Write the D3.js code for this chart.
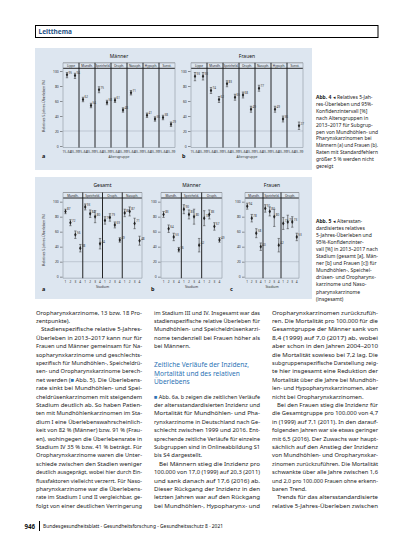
<!DOCTYPE html>
<html><head><meta charset="utf-8">
<script src="https://cdn.jsdelivr.net/npm/d3@7"></script>
<style>html,body{margin:0;padding:0;background:#fff;} svg{display:block}</style>
</head><body>
<script>
// ---------------- DATA ----------------
const fig4Groups = ["Lippe","Mundh.","Speicheld.","Oroph.","Nasoph.","Hypoph.","Sonst."];
const fig4Ages = ["15–64","65–99"];
const fig4Ticks = [0,20,40,60,80,100];
const menVal = [[95,94],[62,54],[75,58],[61,48],[71,null],[41,36],[38,29]];
const menLo  = [[91,90],[59,51],[71,55],[58,45],[68,null],[38,33],[35,26]];
const menHi  = [[98,97],[65,57],[79,61],[64,51],[74,null],[44,39],[41,32]];
const womVal = [[93,93],[74,62],[83,65],[68,49],[77,null],[49,36],[null,27]];
const womLo  = [[87,88],[70,58],[79,61],[64,45],[73,null],[45,32],[null,22]];
const womHi  = [[98,98],[78,66],[87,69],[72,53],[81,null],[53,40],[null,32]];

const fig5GroupsA = ["Mundh.","Speicheld.","Oroph.","Nasoph."];
const fig5GroupsBC = ["Mundh.","Speicheld.","Oroph."];
const stages = ["1","2","3","4"];
const allVal = [[87,72,56,38],[93,84,80,44],[75,79,69,49],[85,87,71,48]];
const allLo  = [[84,68,51,33],[89,79,72,37],[70,74,65,46],[80,81,64,42]];
const allHi  = [[90,76,61,43],[97,89,88,51],[80,84,73,52],[90,93,78,54]];
const m5Val = [[83,64,53,36],[90,83,80,42],[78,83,67,49]];
const m5Lo  = [[79,59,48,33],[84,77,70,33],[68,77,62,46]];
const m5Hi  = [[87,69,58,39],[96,89,90,51],[88,89,72,52]];
const w5Val = [[94,78,58,40],[91,87,80,42],[71,73,73,53]];
const w5Lo  = [[90,73,52,35],[86,81,67,33],[63,64,66,48]];
const w5Hi  = [[98,83,64,45],[96,93,90,51],[79,82,80,58]];

const caption4 = ["Abb. 4 ◂ Relatives 5-Jah-","res-Überleben und 95%-","Konfidenzintervall [%]","nach Altersgruppen in","2013–2017 für Subgrup-","pen von Mundhöhlen- und","Pharynxkarzinomen bei","Männern (a) und Frauen (b).","Raten mit Standardfehlern","größer 5 % werden nicht","gezeigt"];
const caption5 = ["Abb. 5 ◂ Altersstan-","dardisiertes relatives","5-Jahres-Überleben und","95%-Konfidenzinter-","vall [%] in 2013–2017 nach","Stadium (gesamt [a], Män-","ner [b] und Frauen [c]) für","Mundhöhlen-, Speichel-","drüsen- und Oropharynx-","karzinome und Naso-","pharynxkarzinome","(insgesamt)"];

const col1 = ["Oropharynxkarzinome, 13 bzw. 18 Pro-","zentpunkte).|","  Stadienspezifische relative 5-Jahres-","Überleben in 2013–2017 kann nur für","Frauen und Männer gemeinsam für Na-","sopharynxkarzinome und geschlechts-","spezifisch für Mundhöhlen-, Speicheldrü-","sen- und Oropharynxkarzinome berech-","net werden (■ Abb. 5). Die Überlebens-","rate sinkt bei Mundhöhlen- und Spei-","cheldrüsenkarzinomen mit steigendem","Stadium deutlich ab. So haben Patien-","ten mit Mundhöhlenkarzinomen im Sta-","dium I eine Überlebenswahrscheinlich-","keit von 82 % (Männer) bzw. 91 % (Frau-","en), wohingegen die Überlebensrate in","Stadium IV 35 % bzw. 41 % beträgt. Für","Oropharynxkarzinome waren die Unter-","schiede zwischen den Stadien weniger","deutlich ausgeprägt, wobei hier durch Ein-","flussfaktoren vielleicht verzerrt. Für Naso-","pharynxkarzinome war die Überlebens-","rate im Stadium I und II vergleichbar, ge-","folgt von einer deutlichen Verringerung"];
const col2a = ["im Stadium III und IV. Insgesamt war das","stadienspezifische relative Überleben für","Mundhöhlen- und Speicheldrüsenkarzi-","nome tendenziell bei Frauen höher als","bei Männern.|"];
const col2Heading = ["Zeitliche Verläufe der Inzidenz,","Mortalität und des relativen","Überlebens"];
const col2b = ["■ Abb. 6a, b zeigen die zeitlichen Verläufe","der altersstandardisierten Inzidenz und","Mortalität für Mundhöhlen- und Pha-","rynxkarzinome in Deutschland nach Ge-","schlecht zwischen 1999 und 2016. Ent-","sprechende zeitliche Verläufe für einzelne","Subgruppen sind in Onlineabbildung S1","bis S4 dargestellt.|","  Bei Männern stieg die Inzidenz pro","100.000 von 17,0 (1999) auf 20,3 (2011)","und sank danach auf 17,6 (2016) ab.","Dieser Rückgang der Inzidenz in den","letzten Jahren war auf den Rückgang","bei Mundhöhlen-, Hypopharynx- und"];
const col3 = ["Oropharynxkarzinomen zurückzufüh-","ren. Die Mortalität pro 100.000 für die","Gesamtgruppe der Männer sank von","8,4 (1999) auf 7,0 (2017) ab, wobei","aber schon in den Jahren 2004–2010","die Mortalität sowieso bei 7,2 lag. Die","subgruppenspezifische Darstellung zeig-","te hier insgesamt eine Reduktion der","Mortalität über die Jahre bei Mundhöh-","len- und Hypopharynxkarzinomen, aber","nicht bei Oropharynxkarzinomen.|","  Bei den Frauen stieg die Inzidenz für","die Gesamtgruppe pro 100.000 von 4,7","in (1999) auf 7,1 (2011). In den darauf-","folgenden Jahren war sie etwas geringer","mit 6,5 (2016). Der Zuwachs war haupt-","sächlich auf den Anstieg der Inzidenz","von Mundhöhlen- und Oropharynxkar-","zinomen zurückzuführen. Die Mortalität","schwankte über alle Jahre zwischen 1,6","und 2,0 pro 100.000 Frauen ohne erkenn-","baren Trend.|","  Trends für das altersstandardisierte","relative 5-Jahres-Überleben zwischen"];
const footerText = "Bundesgesundheitsblatt - Gesundheitsforschung - Gesundheitsschutz 8 · 2021";

// ---------------- DRAWING ----------------
const W=413,H=550;
const svg=d3.select("body").append("svg").attr("width",W).attr("height",H)
  .style("font-family","'Noto Sans', 'Open Sans', sans-serif");
const BG="#dde6f0", BLUE="#1f5286", LINK="#2b72b4";

// header
svg.append("rect").attr("x",35.5).attr("y",25.5).attr("width",342.5).attr("height",12)
  .attr("fill","none").attr("stroke","#000").attr("stroke-width",1);
svg.append("text").attr("x",38.5).attr("y",34.3).attr("font-size",6.5).attr("font-weight","bold")
  .attr("fill",BLUE).text("Leitthema");

// figure backgrounds
svg.append("rect").attr("x",35).attr("y",48).attr("width",277).attr("height",122).attr("fill",BG);
svg.append("rect").attr("x",35).attr("y",177).attr("width",277).attr("height",122).attr("fill",BG);

function panel(o){
  const g=svg.append("g");
  const x=d3.scaleBand().domain(o.groups).range([o.x0,o.x1]);
  const xs=d3.scalePoint().domain(o.subs).range([0,x.bandwidth()]).padding(0.5);
  const y=o.y;
  const yb=y(0)+1.5;
  const sTop=o.stripTop, sBot=o.stripTop+5.5;
  g.append("text").attr("x",(o.x0+o.x1)/2).attr("y",o.titleY).attr("text-anchor","middle")
    .attr("font-size",5).attr("fill","#111").text(o.title);
  g.append("line").attr("x1",o.x0).attr("x2",o.x1).attr("y1",sTop).attr("y2",sTop).attr("stroke","#555").attr("stroke-width",0.5);
  g.append("line").attr("x1",o.x0).attr("x2",o.x1).attr("y1",sBot).attr("y2",sBot).attr("stroke","#111").attr("stroke-width",0.9);
  g.append("line").attr("x1",o.x0).attr("x2",o.x1).attr("y1",y(20)).attr("y2",y(20)).attr("stroke","#aab4bf").attr("stroke-width",0.6);
  g.append("line").attr("x1",o.x0).attr("x2",o.x1).attr("y1",yb).attr("y2",yb).attr("stroke","#8e98a3").attr("stroke-width",0.6);
  [o.x0,o.x1].forEach(v=>g.append("line").attr("x1",v).attr("x2",v).attr("y1",sTop).attr("y2",yb).attr("stroke","#8e98a3").attr("stroke-width",0.6));
  o.groups.slice(1).forEach(gr=>{
    g.append("line").attr("x1",x(gr)).attr("x2",x(gr)).attr("y1",sTop).attr("y2",yb).attr("stroke","#111").attr("stroke-width",0.9);
  });
  o.groups.forEach(gr=>{
    g.append("text").attr("x",x(gr)+x.bandwidth()/2).attr("y",sBot-1.3).attr("text-anchor","middle")
      .attr("font-size",3.1).attr("fill","#222").text(gr);
    o.subs.forEach(s=>{
      g.append("text").attr("x",x(gr)+xs(s)).attr("y",yb+5).attr("text-anchor","middle")
        .attr("font-size",3.2).attr("fill","#333").text(s);
    });
  });
  const ax=d3.axisLeft(y).tickValues(o.ticks).tickSize(2.5).tickPadding(1.2);
  const ga=g.append("g").attr("transform",`translate(${o.x0-0.5},0)`).call(ax);
  ga.select(".domain").remove();
  ga.selectAll("text").attr("font-size",3.4).attr("fill","#333").attr("font-family","'Noto Sans', sans-serif");
  ga.selectAll("line").attr("stroke","#333").attr("stroke-width",0.5);
  // points
  o.groups.forEach((gr,i)=>{
    o.subs.forEach((s,j)=>{
      const v=o.val[i][j]; if(v==null) return;
      const cx=x(gr)+xs(s);
      const lo=o.lo[i][j], hi=o.hi[i][j];
      g.append("line").attr("x1",cx).attr("x2",cx).attr("y1",y(lo)).attr("y2",y(hi)).attr("stroke","#333").attr("stroke-width",0.6);
      [lo,hi].forEach(b=>g.append("line").attr("x1",cx-1.2).attr("x2",cx+1.2).attr("y1",y(b)).attr("y2",y(b)).attr("stroke","#333").attr("stroke-width",0.5));
      g.append("path").attr("d",d3.symbol(d3.symbolDiamond,5)()).attr("transform",`translate(${cx},${y(v)})`).attr("fill","#222");
      g.append("text").attr("x",cx+1.6).attr("y",y(v)-1.2).attr("font-size",3).attr("fill","#333").text(v);
    });
  });
  if(o.xTitle) g.append("text").attr("x",(o.x0+o.x1)/2).attr("y",yb+10).attr("text-anchor","middle")
      .attr("font-size",3.4).attr("fill","#333").text(o.xTitle);
  g.append("text").attr("x",o.letter[0]).attr("y",o.letter[1]).attr("font-size",5.5).attr("font-weight","bold").attr("fill","#111").text(o.letterText);
  if(o.yTitle){
    g.append("text").attr("transform",`translate(${o.yTitle[0]},${o.yTitle[1]}) rotate(-90)`).attr("text-anchor","middle")
      .attr("font-size",3.4).attr("fill","#333").text(o.yTitleText);
  }
}

const y4=d3.scaleLinear().domain([0,100]).range([146,71]);
const y5=d3.scaleLinear().domain([0,100]).range([276.7,201.7]);

panel({groups:fig4Groups,subs:fig4Ages,x0:63,x1:175,y:y4,ticks:fig4Ticks,stripTop:62.8,titleY:58,title:"Männer",
  val:menVal,lo:menLo,hi:menHi,xTitle:"Altersgruppe",letter:[42,158],letterText:"a",yTitle:[45,106],yTitleText:"Relatives 5-Jahres-Überleben (%)"});
panel({groups:fig4Groups,subs:fig4Ages,x0:191,x1:303,y:y4,ticks:fig4Ticks,stripTop:62.8,titleY:58,title:"Frauen",
  val:womVal,lo:womLo,hi:womHi,xTitle:"Altersgruppe",letter:[182,158],letterText:"b"});

panel({groups:fig5GroupsA,subs:stages,x0:63,x1:142,y:y5,ticks:fig4Ticks,stripTop:192.5,titleY:187,title:"Gesamt",
  val:allVal,lo:allLo,hi:allHi,xTitle:"Stadium",letter:[42,291],letterText:"a",yTitle:[45,240],yTitleText:"Relatives 5-Jahres-Überleben (%)"});
panel({groups:fig5GroupsBC,subs:stages,x0:161,x1:222,y:y5,ticks:fig4Ticks,stripTop:192.5,titleY:187,title:"Männer",
  val:m5Val,lo:m5Lo,hi:m5Hi,xTitle:"Stadium",letter:[151,291],letterText:"b"});
panel({groups:fig5GroupsBC,subs:stages,x0:245,x1:299,y:y5,ticks:fig4Ticks,stripTop:192.5,titleY:187,title:"Frauen",
  val:w5Val,lo:w5Lo,hi:w5Hi,xTitle:"Stadium",letter:[230,291],letterText:"c"});

// text helpers
function addLine(x,y,str,size,width,justify,opts={}){
  const t=svg.append("text").attr("x",x).attr("y",y).attr("font-size",size).attr("fill",opts.fill||"#1a1a1a");
  const parts=str.split(/(■|Abb\. [45])/);
  parts.forEach(p=>{
    if(!p) return;
    const ts=t.append("tspan").text(p);
    if(p==="■") ts.attr("fill",LINK);
    if(opts.boldAbb && /^Abb\. [45]$/.test(p)) ts.attr("font-weight","bold");
  });
  const nat=t.node().getComputedTextLength();
  if(justify || nat>width) t.attr("textLength",width).attr("lengthAdjust","spacingAndGlyphs");
  return t;
}
function block(lines,x,y0,lh,width,size){
  lines.forEach((l,i)=>{
    let s=l, xx=x, w=width, just=true;
    if(s.startsWith("  ")){ s=s.trim(); xx=x+5; w=width-5; }
    if(s.endsWith("|")){ s=s.slice(0,-1); just=false; }
    if(i===lines.length-1 && lines===col2b) just=true;
    addLine(xx,y0+i*lh,s,size,w,just);
  });
}
const LH=8.4, Y0=314.5, FS=5.8, CW=106;
block(col1,36,Y0,LH,CW,FS);
block(col2a,154,Y0,LH,CW,FS);
col2Heading.forEach((l,i)=>{
  addLine(154,367.4+i*8.4,l,6.6,CW,false,{fill:LINK});
});
block(col2b,154,Y0+10*LH,LH,CW,FS);
block(col3,272,Y0,LH,CW,FS);

// captions
caption4.forEach((l,i)=>addLine(316,99+i*6.9,l,5,62,false,{boldAbb:true}));
caption5.forEach((l,i)=>addLine(316,223+i*7.05,l,5,62,false,{boldAbb:true}));

// footer
svg.append("text").attr("x",35).attr("y",528.5).attr("text-anchor","end").attr("font-size",6.2).attr("font-weight","bold").attr("fill","#111").text("946");
svg.append("line").attr("x1",39.5).attr("x2",39.5).attr("y1",521).attr("y2",531).attr("stroke","#000").attr("stroke-width",1);
svg.append("text").attr("x",43).attr("y",528.3).attr("font-size",4.7).attr("fill","#111")
  .attr("textLength",180).attr("lengthAdjust","spacingAndGlyphs").text(footerText);
</script>
</body></html>
